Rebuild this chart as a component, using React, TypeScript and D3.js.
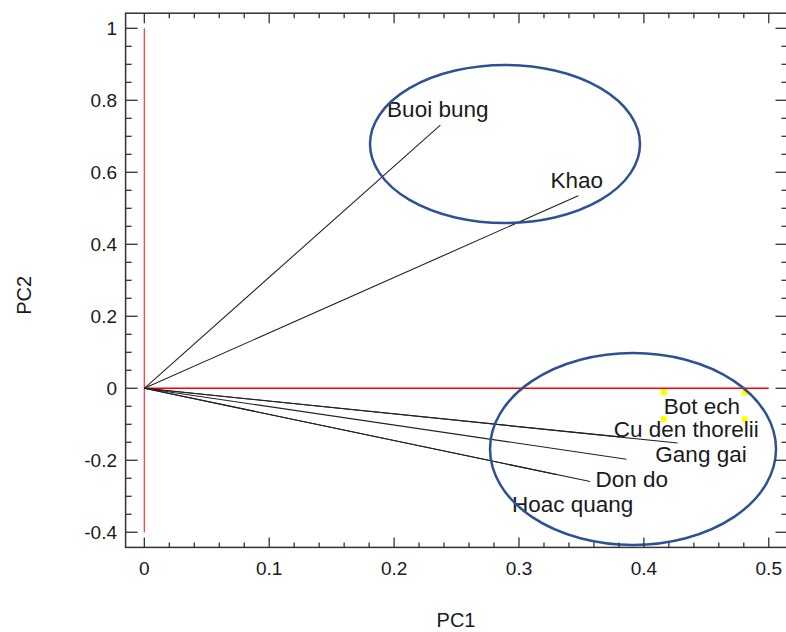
import React from "react";
import * as d3 from "d3";

// Loadings (PC1, PC2)
const names = ["Buoi bung", "Khao", "Bot ech", "Cu den thorelii", "Gang gai", "Don do", "Hoac quang"];
const pc1 = [0.237, 0.3475, 0.381, 0.427, 0.386, 0.357, 0.33];
const pc2 = [0.731, 0.535, -0.135, -0.152, -0.197, -0.259, -0.2394];
// Label anchor (start, baseline) in data units
const labelX = [0.1944, 0.3252, 0.4159, 0.3759, 0.4092, 0.3612, 0.2944];
const labelY = [0.7544, 0.5556, -0.0722, -0.1344, -0.2039, -0.2733, -0.3428];

// Annotation ellipses (centre, radii) in data units
const ellipseCx = [0.2888, 0.3913];
const ellipseCy = [0.6786, -0.1686];
const ellipseRx = [0.1081, 0.1145];
const ellipseRy = [0.2194, 0.2667];

const xTicks = [0, 0.1, 0.2, 0.3, 0.4, 0.5];
const yTicks = [-0.4, -0.2, 0, 0.2, 0.4, 0.6, 0.8, 1];

const W = 786;
const H = 632;
const FONT = "'Liberation Sans', Arial, sans-serif";

export default function App() {
  const x = d3.scaleLinear().domain([-0.015, 0.515]).range([125.6, 787.5]);
  const y = d3.scaleLinear().domain([-0.442, 1.042]).range([547.4, 13.2]);
  const [x0, x1] = x.range();
  const [yb, yt] = y.range();

  const xMinor = d3.range(0, 0.5001, 0.02).filter((v) => Math.abs(v * 10 - Math.round(v * 10)) > 1e-6);
  const yMinor = d3.range(-0.4, 1.0001, 0.05).filter((v) => Math.abs(v * 5 - Math.round(v * 5)) > 1e-6);
  const fmt = (v: number) => (Math.abs(v) < 1e-9 ? "0" : String(+v.toFixed(2)));

  const tc = "#333";
  // Bot ech label selection handles
  const be = 2;
  const bx = x(labelX[be]);
  const by = y(labelY[be]);
  const bw = 78;
  const handles = [
    [bx - 3, by - 25],
    [bx + bw, by - 25],
    [bx - 3, by + 2],
    [bx + bw, by + 2],
  ];

  return (
    <div style={{ position: "absolute", left: 0, top: 0 }}>
      <svg width={W} height={H} style={{ display: "block", background: "#fff" }} fontFamily={FONT}>
        {/* red reference lines */}
        <line x1={x(0)} x2={x(0)} y1={y(-0.4)} y2={y(1)} stroke="#ff4040" strokeWidth={1.3} />
        <line x1={x(0)} x2={x(0.5)} y1={y(0)} y2={y(0)} stroke="#ff0000" strokeWidth={1.5} />

        {/* vectors */}
        {names.map((n, i) => (
          <line key={n} x1={x(0)} y1={y(0)} x2={x(pc1[i])} y2={y(pc2[i])} stroke="#222" strokeWidth={1.1} />
        ))}

        {/* selection handles */}
        {handles.map(([hx, hy], i) => (
          <rect key={i} x={hx} y={hy} width={6} height={6} fill="#ffff00" />
        ))}

        {/* labels */}
        {names.map((n, i) => (
          <text key={n} x={x(labelX[i])} y={y(labelY[i])} fontSize={22.5} fill="#1a1a1a">
            {n}
          </text>
        ))}

        {/* ellipses */}
        {ellipseCx.map((cx, i) => (
          <ellipse
            key={i}
            cx={x(cx)}
            cy={y(ellipseCy[i])}
            rx={x(ellipseRx[i]) - x(0)}
            ry={y(0) - y(ellipseRy[i])}
            fill="none"
            stroke="#2f5192"
            strokeWidth={2.5}
          />
        ))}

        {/* frame */}
        <rect x={x0} y={yt} width={x1 - x0} height={yb - yt} fill="none" stroke={tc} strokeWidth={1.5} />

        {/* x ticks bottom and top */}
        {xTicks.map((t) => (
          <g key={"xt" + t}>
            <line x1={x(t)} x2={x(t)} y1={yb} y2={yb - 10} stroke={tc} strokeWidth={1.3} />
            <line x1={x(t)} x2={x(t)} y1={yt} y2={yt + 10} stroke={tc} strokeWidth={1.3} />
            <text x={x(t)} y={575} textAnchor="middle" fontSize={19} fill="#1a1a1a">
              {fmt(t)}
            </text>
          </g>
        ))}
        {xMinor.map((t) => (
          <g key={"xm" + t}>
            <line x1={x(t)} x2={x(t)} y1={yb} y2={yb - 5} stroke={tc} strokeWidth={1.3} />
            <line x1={x(t)} x2={x(t)} y1={yt} y2={yt + 5} stroke={tc} strokeWidth={1.3} />
          </g>
        ))}

        {/* y ticks left and right */}
        {yTicks.map((t) => (
          <g key={"yt" + t}>
            <line x1={x0} x2={x0 + 12} y1={y(t)} y2={y(t)} stroke={tc} strokeWidth={1.3} />
            <line x1={x1} x2={x1 - 12} y1={y(t)} y2={y(t)} stroke={tc} strokeWidth={1.3} />
            <text x={117} y={y(t)} dy="0.35em" textAnchor="end" fontSize={19} fill="#1a1a1a">
              {fmt(t)}
            </text>
          </g>
        ))}
        {yMinor.map((t) => (
          <g key={"ym" + t}>
            <line x1={x0} x2={x0 + 6} y1={y(t)} y2={y(t)} stroke={tc} strokeWidth={1.3} />
            <line x1={x1} x2={x1 - 6} y1={y(t)} y2={y(t)} stroke={tc} strokeWidth={1.3} />
          </g>
        ))}

        {/* axis titles */}
        <text x={456} y={627} textAnchor="middle" fontSize={20} fill="#1a1a1a">
          PC1
        </text>
        <text
          transform={`translate(31,${(yt + yb) / 2 + 15}) rotate(-90)`}
          textAnchor="middle"
          fontSize={20}
          fill="#1a1a1a"
        >
          PC2
        </text>
      </svg>
    </div>
  );
}
